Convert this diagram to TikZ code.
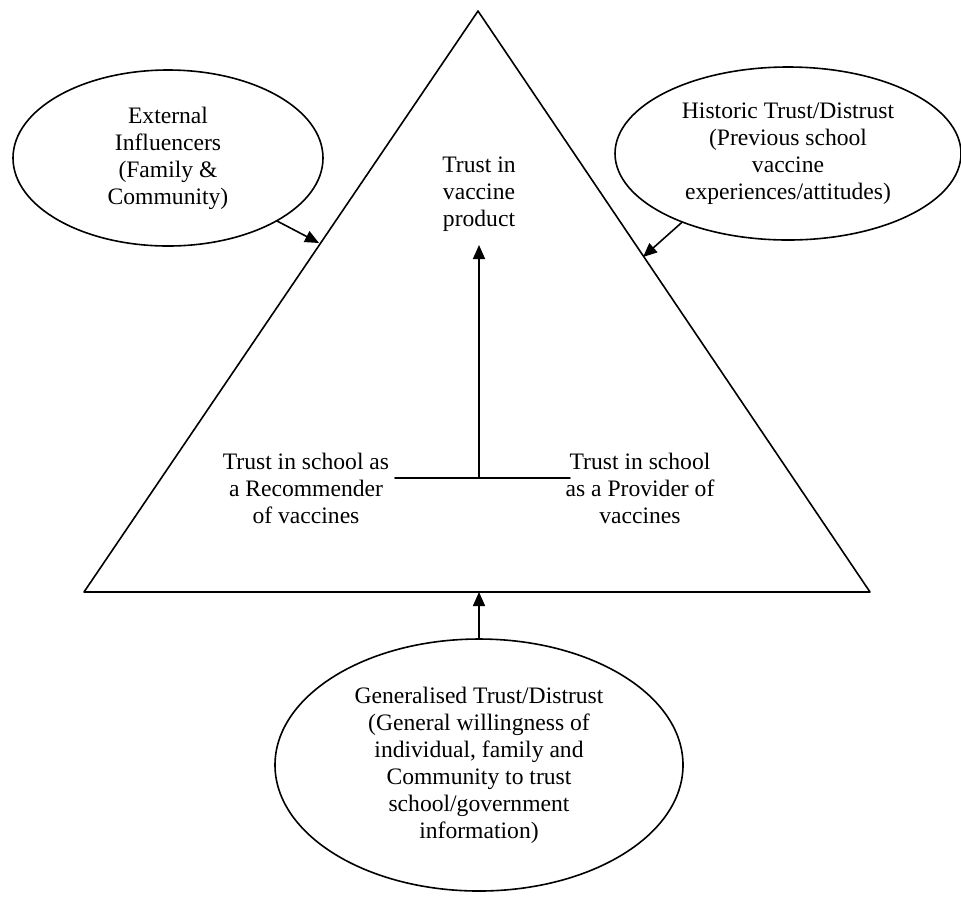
\documentclass[tikz,border=0pt]{standalone}
\usepackage{fontspec}
\setmainfont{Liberation Serif}
\usepackage{tikz}
\usetikzlibrary{arrows.meta}
\usetikzlibrary{shapes.geometric}
\usetikzlibrary{calc}

\tikzset{
  oval/.style={draw,ellipse,line width=.8pt,inner sep=0pt,align=center},
  label text/.style={align=center,inner sep=0pt}
}

\begin{document}
\begin{tikzpicture}[line cap=round,line join=round,>={Triangle[length=7pt,width=6pt]},x=0.5pt,y=-0.5pt,
  every node/.style={font=\fontsize{11.8}{13.5}\selectfont}]
\useasboundingbox (0,0) rectangle (961,896);
% triangle
\coordinate (apex) at (478,11);
\coordinate (bl) at (84,592);
\coordinate (br) at (870,592);
\draw [line width=.8pt] (apex) -- (bl) -- (br) -- cycle;
% points on the edges
\coordinate (lin) at (319,243);
\coordinate (rin) at (643,257);
\coordinate (bin) at (479,592);
% inner labels
\node[label text] (product) at (479,194) {Trust in\\vaccine\\product};
\node[label text] (recommender) at (306,488) {Trust in school as\\a Recommender\\of vaccines};
\node[label text] (provider) at (640,488) {Trust in school\\as a Provider of\\vaccines};
\coordinate (hl) at (395,478);
\coordinate (hr) at (570,478);
\coordinate (hm) at (479,478);
\coordinate (top) at (479,245);
\draw [line width=.8pt] (hl) -- (hr);
\draw [->,line width=.8pt] (hm) -- (top);
% outer ovals
\node[oval,minimum width=155pt,minimum height=88pt] (ext) at (168,158) {External\\Influencers\\(Family \&\\Community)};
\node[oval,minimum width=173pt,minimum height=86.5pt] (hist) at (788,153.5) {Historic Trust/Distrust\\(Previous school\\vaccine\\experiences/attitudes)};
\node[oval,minimum width=204pt,minimum height=126pt] (gen) at (479,765) {Generalised Trust/Distrust\\(General willingness of\\individual, family and\\Community to trust\\school/government\\information)};
% influences
\draw [->,line width=.8pt] (ext.-30) -- (lin);
\draw [->,line width=.8pt] (hist.-147) -- (rin);
\draw [->,line width=.8pt] (gen.north) -- (bin);
\end{tikzpicture}
\end{document}
